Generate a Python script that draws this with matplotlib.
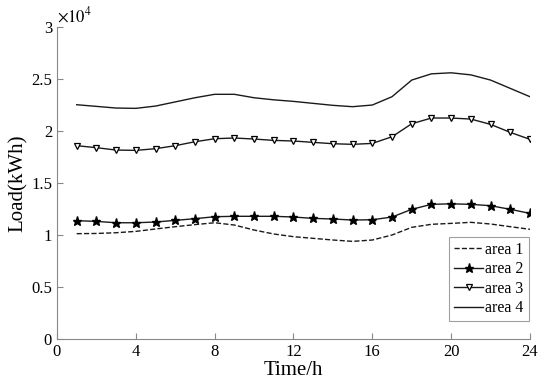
import numpy as np
import matplotlib.pyplot as plt

plt.rcParams['font.family'] = ['Liberation Serif', 'DejaVu Serif']
plt.rcParams['mathtext.fontset'] = 'stix'

hours = list(range(1, 25))
# load in units of 1e4 kWh
area1 = [1.013, 1.015, 1.022, 1.035, 1.058, 1.080, 1.100, 1.118, 1.096, 1.048, 1.010, 0.984,
         0.968, 0.952, 0.939, 0.952, 1.000, 1.074, 1.103, 1.112, 1.122, 1.106, 1.080, 1.055]
area2 = [1.138, 1.131, 1.118, 1.118, 1.125, 1.141, 1.157, 1.176, 1.180, 1.180, 1.180, 1.173,
         1.160, 1.154, 1.144, 1.147, 1.173, 1.247, 1.295, 1.300, 1.295, 1.282, 1.247, 1.208]
area3 = [1.859, 1.840, 1.817, 1.814, 1.830, 1.859, 1.897, 1.926, 1.933, 1.923, 1.910, 1.904,
         1.891, 1.878, 1.872, 1.881, 1.945, 2.070, 2.125, 2.125, 2.115, 2.064, 1.987, 1.920]
area4 = [2.253, 2.237, 2.221, 2.218, 2.240, 2.280, 2.320, 2.353, 2.353, 2.320, 2.300, 2.285,
         2.266, 2.247, 2.234, 2.250, 2.330, 2.490, 2.550, 2.560, 2.540, 2.490, 2.410, 2.330]
labels = ['area 1', 'area 2', 'area 3', 'area 4']
xticks = [0, 4, 8, 12, 16, 20, 24]
yticks = [0, 0.5, 1, 1.5, 2, 2.5, 3]
ytick_labels = ['0', '0.5', '1', '1.5', '2', '2.5', '3']

fig = plt.figure(figsize=(5.5, 3.89), dpi=100)
ax = fig.add_axes([0.1036, 0.1285, 0.86, 0.802])

ax.plot(hours, area1, '--', color='#1a1a1a', lw=1.0, label=labels[0])
ax.plot(hours, area2, '-', color='#1a1a1a', lw=1.0, marker='*', ms=6.5,
        mfc='black', mec='black', label=labels[1])
ax.plot(hours, area3, '-', color='#1a1a1a', lw=1.0, marker='v', ms=5,
        mfc='white', mec='black', mew=0.9, label=labels[2])
ax.plot(hours, area4, '-', color='#1a1a1a', lw=1.0, label=labels[3])

ax.set_xlim(0, 24)
ax.set_ylim(0, 3)
ax.set_xticks(xticks)
ax.set_yticks(yticks)
ax.set_yticklabels(ytick_labels)
ax.tick_params(direction='in', labelsize=12, color='#888888', length=4)
for s in ['top', 'right']:
    ax.spines[s].set_visible(False)
for s in ['left', 'bottom']:
    ax.spines[s].set_color('#888888')
    ax.spines[s].set_linewidth(0.8)

ax.set_xlabel('Time/h', fontsize=15, labelpad=1)
ax.set_ylabel('Load(kWh)', fontsize=15, labelpad=2)
ax.text(0, 1.005, r'$\times10^4$', transform=ax.transAxes, fontsize=12,
        ha='left', va='bottom')

leg = ax.legend(loc='lower right', bbox_to_anchor=(0.997, 0.058), fontsize=11.5,
                frameon=True, fancybox=False, handlelength=1.8, handletextpad=0.15,
                borderpad=0.3, labelspacing=0.22, borderaxespad=0)
leg.get_frame().set_edgecolor('#888888')
leg.get_frame().set_linewidth(0.8)

fig.savefig('out.png', dpi=100)
